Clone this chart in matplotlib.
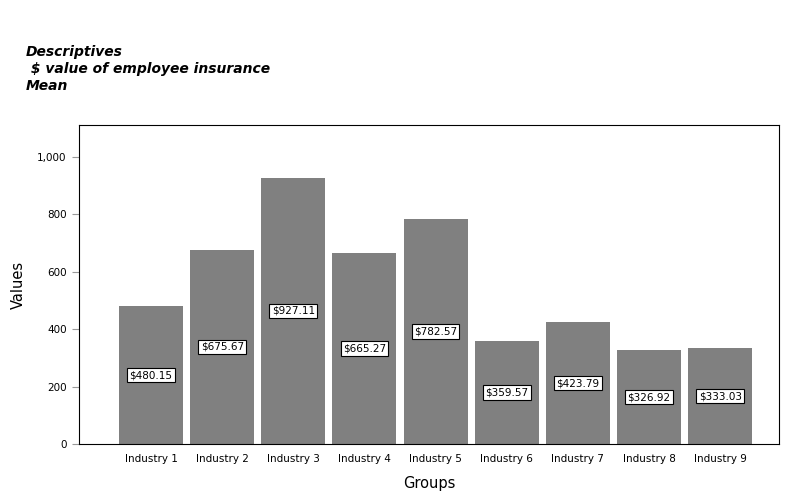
import numpy as np
import matplotlib.pyplot as plt

# group names and mean values
groups = ['Industry 1', 'Industry 2', 'Industry 3', 'Industry 4', 'Industry 5',
          'Industry 6', 'Industry 7', 'Industry 8', 'Industry 9']
means = [480.15, 675.67, 927.11, 665.27, 782.57, 359.57, 423.79, 326.92, 333.03]
yticks = [0, 200, 400, 600, 800, 1000]

fig = plt.figure(figsize=(8, 5), dpi=100)
ax = fig.add_axes([0.099, 0.112, 0.875, 0.638])

x = np.arange(len(groups))
ax.bar(x, means, width=0.9, color='#808080')

# value labels in the middle of each bar
for xi, v in zip(x, means):
    ax.text(xi, v / 2, f'${v:,.2f}', ha='center', va='center', fontsize=7.5,
            bbox=dict(boxstyle='square,pad=0.22', fc='white', ec='black', lw=0.8))

ax.set_xlim(-1.01, 8.83)
ax.set_ylim(0, 1111)
ax.set_xticks(x)
ax.set_xticklabels(groups, fontsize=7.5)
ax.tick_params(axis='x', length=0, pad=7)
ax.set_yticks(yticks)
ax.set_yticklabels([f'{t:,}' for t in yticks], fontsize=7.5)
ax.tick_params(axis='y', length=5, color='#999999', pad=4)
ax.set_xlabel('Groups', fontsize=10.5, labelpad=9)
ax.set_ylabel('Values', fontsize=10.5, labelpad=8)

fig.text(0.032, 0.91, 'Descriptives\n $ value of employee insurance\nMean',
         fontsize=10, fontweight='bold', fontstyle='italic', va='top',
         linespacing=1.25)

fig.savefig('out.png', dpi=100)
